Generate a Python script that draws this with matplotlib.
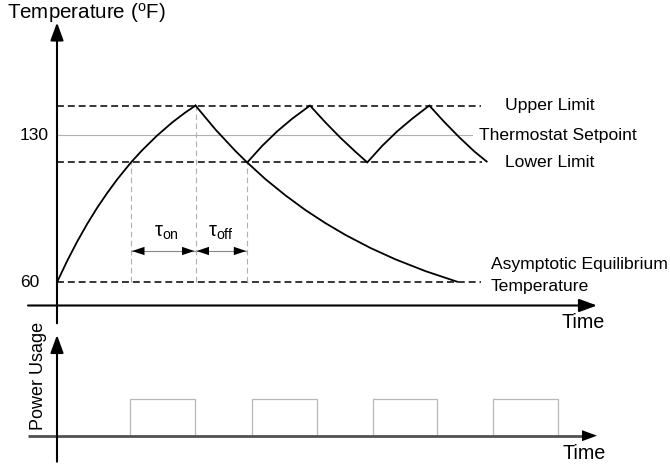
import matplotlib
matplotlib.use('Agg')
import matplotlib.pyplot as plt

plt.rcParams['font.family'] = ['Liberation Sans', 'DejaVu Sans']
plt.rcParams['mathtext.fontset'] = 'custom'
plt.rcParams['mathtext.rm'] = 'Liberation Sans'
plt.rcParams['mathtext.it'] = 'Liberation Sans:italic'
plt.rcParams['lines.scale_dashes'] = False

# ---------------- data ----------------
T_ambient = 60
T_setpoint = 130
T_upper = 144
T_lower = 117
tick_values = [60, 130]
tick_labels = ['60', '130']

heat1_t = [0, 10, 20, 30, 40, 50, 60, 74, 85, 100, 115, 128, 138.5]
heat1_T = [60, 70.0, 79.2, 87.6, 95.3, 102.3, 108.8, 117.0, 122.7, 129.7, 135.9, 140.6, 144.0]

cool1_t = [138.5, 158.5, 178.5, 190.3, 208.5, 228.5, 248.5, 268.5, 288.5, 313.5, 338.5, 368.5, 400]
cool1_T = [144, 132.6, 122.4, 116.9, 109.0, 101.3, 94.3, 88.1, 82.5, 76.3, 70.9, 65.3, 60.3]

cycle_t = [190.3, 205.3, 220.3, 235.3, 253, 268, 283, 298, 310.3,
           325.3, 340.3, 355.3, 372.3, 387.3, 402.3, 417.3, 429.7]
cycle_T = [117, 124.9, 131.8, 137.8, 144, 136.2, 128.9, 122.2, 117,
           124.9, 131.8, 137.8, 144, 136.2, 128.9, 122.2, 117.4]

power_on_start = [73, 195, 315.5, 436]
power_on_end = [138, 260, 380, 501]
power_level = 1.0

tau_on = (74, 138.5)
tau_off = (138.5, 190.3)

# ---------------- layout helpers ----------------
W, H = 670, 470
PX_PER_DEG = 2.104
Y_60 = 282.3
PX_PER_P = 36.4
Y_P0 = 435.7


def T_of_y(y):
    return T_ambient + (Y_60 - y) / PX_PER_DEG


def P_of_y(y):
    return (Y_P0 - y) / PX_PER_P


fig = plt.figure(figsize=(6.7, 4.7), dpi=100)
axT = fig.add_axes([0, 1 - 335 / H, 1, 335 / H])
axP = fig.add_axes([0, 0, 1, 150 / H])
for ax in (axT, axP):
    ax.set_axis_off()
    ax.set_xlim(-57, 613)
axT.set_ylim(T_of_y(335), T_of_y(0))
axP.set_ylim(P_of_y(470), P_of_y(320))

dash = (0, (5, 2.8))
gdash = (0, (4, 2.5))
big_head = '-|>,head_length=0.6,head_width=0.22'

# reference lines
axT.plot([0, 424], [T_upper, T_upper], color='black', lw=1.1, ls=dash)
axT.plot([0, 425], [T_lower, T_lower], color='black', lw=1.1, ls=dash)
axT.plot([0, 424], [T_ambient, T_ambient], color='black', lw=1.1, ls=dash)
axT.plot([0, 415], [T_setpoint, T_setpoint], color='#b0b0b0', lw=0.8)

# vertical guide lines
axT.plot([tau_on[0]] * 2, [T_ambient, T_lower], color='#b0b0b0', lw=0.8, ls=gdash)
axT.plot([tau_on[1]] * 2, [T_ambient, T_upper], color='#b0b0b0', lw=0.8, ls=gdash)
axT.plot([tau_off[1]] * 2, [T_ambient, T_lower], color='#b0b0b0', lw=0.8, ls=gdash)

# temperature curves
for t, T in ((heat1_t, heat1_T), (cool1_t, cool1_T), (cycle_t, cycle_T)):
    axT.plot(t, T, color='black', lw=1.3, solid_joinstyle='miter')

# tau arrows
tau_y = T_of_y(251)
for (a, b) in (tau_on, tau_off):
    a2, b2 = a + 1, b - 1
    axT.plot([a2, b2], [tau_y, tau_y], color='#888888', lw=0.8)
    mid = (a2 + b2) / 2
    for end in (a2, b2):
        axT.annotate('', xy=(end, tau_y), xytext=(mid, tau_y),
                     arrowprops=dict(arrowstyle='-|>,head_length=0.6,head_width=0.2',
                                     mutation_scale=15, color='black', lw=0,
                                     shrinkA=0, shrinkB=0))
axT.text((tau_on[0] + tau_on[1]) / 2 + 3, T_of_y(232), r'$\mathrm{\tau}_{\mathrm{on}}$',
         fontsize=14.5, ha='center', va='center')
axT.text((tau_off[0] + tau_off[1]) / 2, T_of_y(232), r'$\mathrm{\tau}_{\mathrm{off}}$',
         fontsize=14.5, ha='center', va='center')

# temperature axes
axT.annotate('', xy=(0, T_of_y(22.5)), xytext=(0, T_of_y(323.3)),
             arrowprops=dict(arrowstyle=big_head, mutation_scale=18, color='black',
                             lw=1.5, shrinkA=0, shrinkB=0), annotation_clip=False)
axT.annotate('', xy=(540, T_of_y(305.5)), xytext=(-29, T_of_y(305.5)),
             arrowprops=dict(arrowstyle=big_head, mutation_scale=18, color='black',
                             lw=1.5, shrinkA=0, shrinkB=0), annotation_clip=False)

for v, lab in zip(tick_values, tick_labels):
    axT.text(-37, v, lab, fontsize=12.5, ha='left', va='center')

axT.text(-50, T_of_y(13), r'Temperature ($^{\mathrm{o}}$F)', fontsize=14.8, ha='left', va='center')
axT.text(504.5, T_of_y(322), 'Time', fontsize=14.2, ha='left', va='center')

axT.text(448, T_upper, 'Upper Limit', fontsize=12.6, ha='left', va='center')
axT.text(422, T_setpoint, 'Thermostat Setpoint', fontsize=12.6, ha='left', va='center')
axT.text(448, T_lower, 'Lower Limit', fontsize=12.6, ha='left', va='center')
axT.text(434, T_of_y(265), 'Asymptotic Equilibrium', fontsize=12.6, ha='left', va='center')
axT.text(434, T_of_y(286), 'Temperature', fontsize=12.6, ha='left', va='center')

# power panel
widths = [e - s for s, e in zip(power_on_start, power_on_end)]
axP.bar(power_on_start, [power_level] * len(widths), width=widths, align='edge',
        fill=False, edgecolor='#b8b8b8', lw=0.9)
axP.plot([-29, 528], [0, 0], color='#505050', lw=2.0, solid_capstyle='butt')
axP.annotate('', xy=(540, 0), xytext=(500, 0),
             arrowprops=dict(arrowstyle=big_head, mutation_scale=18, color='black',
                             lw=0, shrinkA=0, shrinkB=0), annotation_clip=False)
axP.annotate('', xy=(0, P_of_y(335)), xytext=(0, P_of_y(461.7)),
             arrowprops=dict(arrowstyle=big_head, mutation_scale=18, color='black',
                             lw=1.5, shrinkA=0, shrinkB=0), annotation_clip=False)
axP.text(-18.7, P_of_y(375.5), 'Power Usage', fontsize=13, rotation=90,
         ha='center', va='center')
axP.text(505.5, P_of_y(453.3), 'Time', fontsize=14.2, ha='left', va='center')

fig.savefig('out.png', dpi=100)
